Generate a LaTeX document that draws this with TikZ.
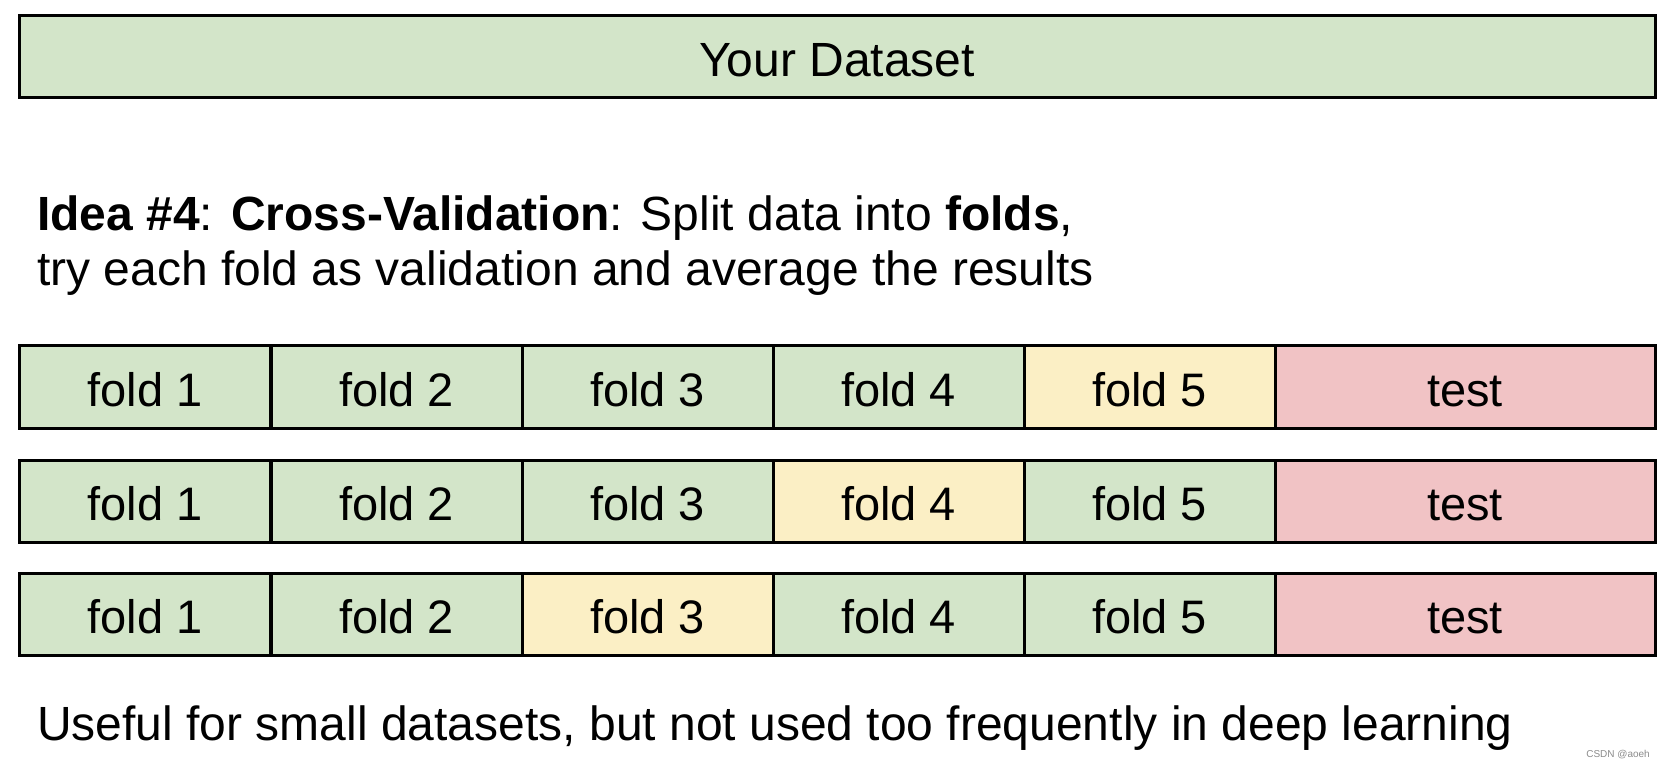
\documentclass[tikz,border=0pt]{standalone}
\usepackage{fontspec}
\setmainfont{Liberation Sans}
\definecolor{cvgreen}{HTML}{D3E5C9}
\definecolor{cvyellow}{HTML}{FBEFC5}
\definecolor{cvred}{HTML}{F1C3C5}
\begin{document}
\begin{tikzpicture}[x=1pt,y=-1pt,
  cell/.style={draw=black,line width=3pt,inner sep=0pt,minimum height=82pt,
    text height=38pt,text depth=0pt,
    font=\fontsize{47}{47}\selectfont,text=black},
  trainc/.style={cell,fill=cvgreen},
  valc/.style={cell,fill=cvyellow},
  testc/.style={cell,fill=cvred},
  txt/.style={anchor=base west,inner sep=0pt,font=\fontsize{48}{48}\selectfont,text=black}]
\useasboundingbox[fill=white] (0,0) rectangle (1663,767);
% dataset
\node[trainc,minimum width=1636pt,text height=40pt,font=\fontsize{48}{48}\selectfont] (ds) at (837,57) {Your Dataset};
% description
\node[txt] (l1) at (37,231) {\textbf{Idea \#4}: \textbf{Cross-Validation}: Split data into \textbf{folds},};
\node[txt] (l2) at (37,286) {try each fold as validation and average the results};
% rows
\foreach \r/\yy/\v in {1/387/5,2/501/4,3/614.5/3}{
  \foreach \i/\xx in {1/145,2/396.5,3/647.5,4/898.5,5/1149.5}{
    \ifnum\i=\v
      \node[valc,minimum width=251pt] (f\r\i) at (\xx,\yy) {fold \i};
    \else
      \node[trainc,minimum width=251pt] (f\r\i) at (\xx,\yy) {fold \i};
    \fi
  }
  \node[testc,minimum width=380pt] (t\r) at (1465,\yy) {test};
}
\node[txt] (l3) at (37,740) {Useful for small datasets, but not used too frequently in deep learning};
\node[anchor=base east,inner sep=0pt,font=\fontsize{10}{10}\selectfont,text=black!45] (wm) at (1650,757) {CSDN @aoeh};
\end{tikzpicture}
\end{document}
